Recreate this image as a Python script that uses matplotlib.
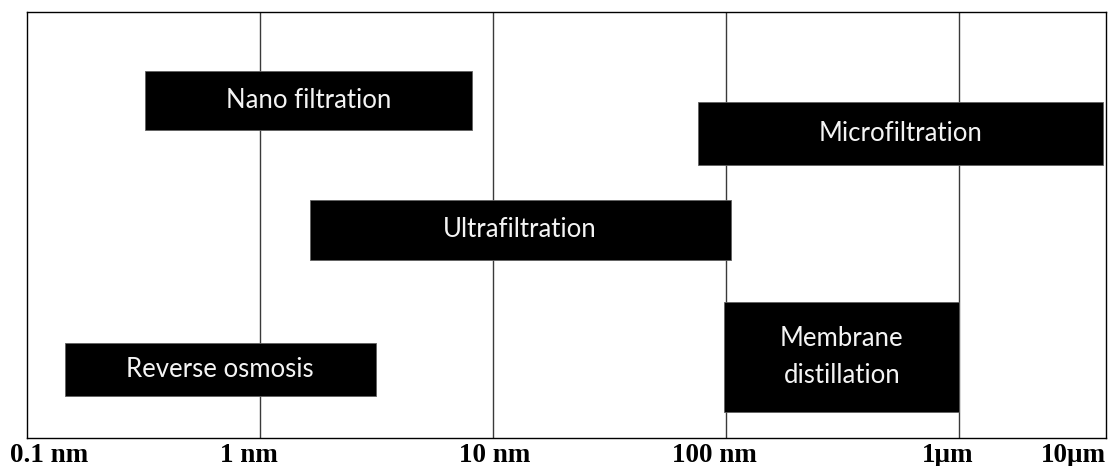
import matplotlib
matplotlib.use("Agg")
import matplotlib.pyplot as plt

# Data (sizes in nm)
processes = ["Nano filtration", "Microfiltration", "Ultrafiltration", "Reverse osmosis", "Membrane\ndistillation"]
size_min = [0.32, 76.0, 1.63, 0.145, 98.0]
size_max = [8.15, 4120.0, 104.5, 3.13, 1000.0]
row_bottom = [72.3, 64.1, 41.9, 9.9, 6.1]
row_top = [86.1, 79.0, 55.9, 22.3, 31.9]

grid_values = [1, 10, 100, 1000]
tick_positions = [0.124, 0.894, 10.2, 89.4, 893, 3100]
tick_labels = ["0.1 nm", "1 nm", "10 nm", "100 nm", "1\u03bcm", "10\u03bcm"]
x_min, x_max = 0.1, 4257

fig = plt.figure(figsize=(11.12, 4.66), dpi=100)
ax = fig.add_axes([27 / 1112, 27.7 / 466, 1079 / 1112, 426.3 / 466])
ax.set_xscale("log")
ax.set_xlim(x_min, x_max)
ax.set_ylim(0, 100)

for g in grid_values:
    ax.axvline(g, color="#3a3a3a", lw=1.0, zorder=1)

for name, lo, hi, b, t in zip(processes, size_min, size_max, row_bottom, row_top):
    ax.barh(b, hi - lo, left=lo, height=t - b, align="edge",
            color="black", edgecolor="#606060", lw=0.6, zorder=2)
    xc = (lo * hi) ** 0.5
    ax.text(xc, (b + t) / 2, name, color="#f4f4f4", ha="center", va="center",
            fontsize=18.5, family="Lato", linespacing=1.6, zorder=3)

ax.set_yticks([])
ax.set_xticks(tick_positions)
ax.set_xticklabels(tick_labels, fontsize=19.5, fontweight="bold", family="Liberation Serif")
ax.minorticks_off()
ax.tick_params(axis="x", length=0, pad=3.5)
for s in ax.spines.values():
    s.set_color("black")
    s.set_linewidth(1.0)

fig.savefig("out.png", dpi=100)
